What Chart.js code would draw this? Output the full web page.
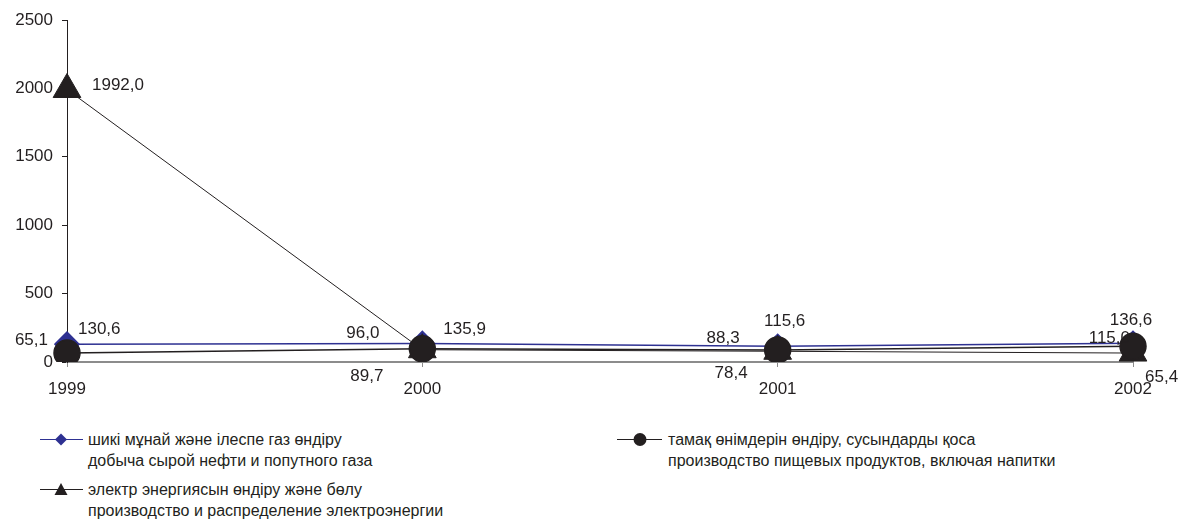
<!DOCTYPE html>
<html>
<head>
<meta charset="utf-8">
<script src="https://cdn.jsdelivr.net/npm/chart.js@4"></script>
<style>
  html, body { margin: 0; padding: 0; background: #fff; }
  body { width: 1182px; height: 521px; position: relative; overflow: hidden;
         font-family: "Liberation Sans", Arial, sans-serif; color: #231f20; }
  #wrap { position: absolute; left: 0; top: 0; width: 1182px; height: 410px; }
  .leg { position: absolute; font-size: 16px; line-height: 21px; }
  .leg svg { position: absolute; left: 0; top: 0; }
  .leg .txt { position: absolute; white-space: nowrap; }
</style>
</head>
<body>
<div id="wrap"><canvas id="c"></canvas></div>
<div id="legend"></div>
<script>
// категории и значения
const years = ['1999', '2000', '2001', '2002'];
const oilGas = [130.6, 135.9, 115.6, 136.6];
const food = [65.1, 96.0, 88.3, 115.0];
const power = [1992.0, 89.7, 78.4, 65.4];
const yTicks = [0, 500, 1000, 1500, 2000, 2500];

const seriesNames = [
  ['шикі мұнай және ілеспе газ өндіру', 'добыча сырой нефти и попутного газа'],
  ['электр энергиясын өндіру және бөлу', 'производство и распределение электроэнергии'],
  ['тамақ өнімдерін өндіру, сусындарды қоса', 'производство пищевых продуктов, включая напитки'],
];

const ink = '#231f20';
const navy = '#2e3192';
const fontFamily = '"Liberation Sans", Arial, sans-serif';

// label placement relative to the point: [dx, dy, align]
const labelPos = {
  oil: [[11, -15, 'left'], [21, -14, 'left'], [7, -25, 'center'], [-2, -23, 'center']],
  food: [[-19, -13, 'right'], [-43, -16, 'right'], [-38, -12, 'right'], [-3, -8, 'right']],
  power: [[25, -4, 'left'], [-39, 27, 'right'], [-30, 22, 'right'], [12, 24, 'left']],
};

const fmt = v => v.toFixed(1).replace('.', ',');

const valueLabels = {
  id: 'valueLabels',
  afterDatasetsDraw(chart) {
    const ctx = chart.ctx;
    ctx.save();
    ctx.font = '17px ' + fontFamily;
    ctx.fillStyle = ink;
    ctx.textBaseline = 'middle';
    chart.data.datasets.forEach((ds, i) => {
      const meta = chart.getDatasetMeta(i);
      meta.data.forEach((pt, j) => {
        const [dx, dy, align] = labelPos[ds.key][j];
        ctx.textAlign = align;
        ctx.fillText(fmt(ds.data[j]), pt.x + dx, pt.y + dy);
      });
    });
    ctx.restore();
  }
};

new Chart(document.getElementById('c'), {
  type: 'line',
  data: {
    labels: years,
    datasets: [
      { key: 'oil', label: seriesNames[0].join(' '), data: oilGas, order: 2,
        borderColor: navy, borderWidth: 1.5, backgroundColor: navy,
        pointStyle: 'rectRot', pointRadius: 12, pointBorderColor: navy, pointBackgroundColor: navy },
      { key: 'power', label: seriesNames[1].join(' '), data: power, order: 1,
        borderColor: ink, borderWidth: 1, backgroundColor: ink,
        pointStyle: 'triangle', pointRadius: 16, pointBorderColor: ink, pointBackgroundColor: ink },
      { key: 'food', label: seriesNames[2].join(' '), data: food, order: 0,
        borderColor: ink, borderWidth: 1.5, backgroundColor: ink,
        pointStyle: 'circle', pointRadius: 13, pointBorderColor: ink, pointBackgroundColor: ink },
    ]
  },
  options: {
    responsive: true,
    maintainAspectRatio: false,
    animation: false,
    layout: { padding: { top: 20, right: 49, left: 0, bottom: 0 } },
    plugins: { legend: { display: false }, tooltip: { enabled: false } },
    scales: {
      x: {
        offset: false,
        grid: { drawOnChartArea: false, drawTicks: true, tickLength: 5, color: '#8c8c8c' },
        border: { color: '#8c8c8c', width: 2 },
        ticks: { color: ink, padding: 12, maxRotation: 0, font: { size: 17, family: fontFamily } },
        afterFit(s) { s.height = 48; }
      },
      y: {
        min: 0, max: 2500,
        afterBuildTicks(s) { s.ticks = yTicks.map(v => ({ value: v })); },
        grid: { drawOnChartArea: false, drawTicks: true, tickLength: 5, color: ink },
        border: { color: ink, width: 1 },
        ticks: { color: ink, padding: 9, font: { size: 17, family: fontFamily },
                 callback: v => String(v) },
        afterFit(s) { s.width = 67; }
      }
    }
  },
  plugins: [valueLabels]
});

// legend
const legendItems = [
  { x: 40, y: 429, shape: 'diamond', color: navy, names: seriesNames[0] },
  { x: 40, y: 479, shape: 'triangle', color: ink, names: seriesNames[1] },
  { x: 617, y: 429, shape: 'circle', color: ink, names: seriesNames[2] },
];
const legendEl = document.getElementById('legend');
legendItems.forEach(it => {
  const d = document.createElement('div');
  d.className = 'leg';
  d.style.left = it.x + 'px';
  d.style.top = it.y + 'px';
  let mark = '';
  if (it.shape === 'diamond') mark = '<polygon points="21,4.5 27,10.5 21,16.5 15,10.5" fill="' + it.color + '"/>';
  if (it.shape === 'triangle') mark = '<polygon points="21,4 27.5,16 14.5,16" fill="' + it.color + '"/>';
  if (it.shape === 'circle') mark = '<circle cx="23" cy="10.5" r="6.5" fill="' + it.color + '"/>';
  const lineEnd = it.shape === 'circle' ? 45 : 43;
  const textLeft = it.shape === 'circle' ? 51 : 48;
  d.innerHTML = '<svg width="48" height="22"><line x1="0" y1="10.5" x2="' + lineEnd + '" y2="10.5" stroke="' + it.color + '" stroke-width="1.2"/>' + mark + '</svg>' +
    '<div class="txt" style="left:' + textLeft + 'px;top:0">' + it.names[0] + '<br>' + it.names[1] + '</div>';
  legendEl.appendChild(d);
});
</script>
</body>
</html>
